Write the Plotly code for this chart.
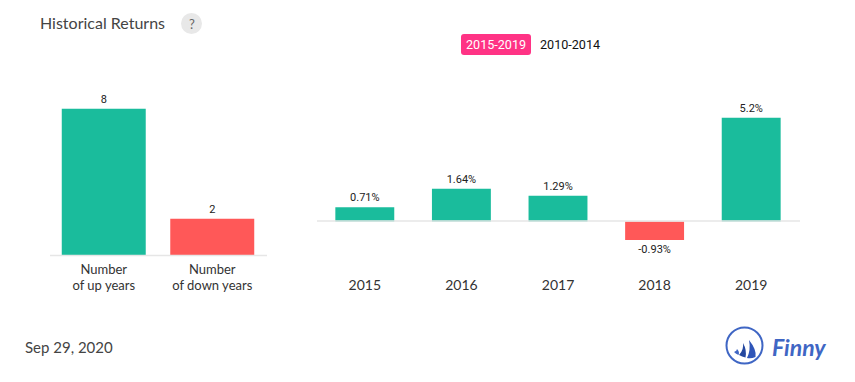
import plotly.graph_objects as go

W, H = 855, 382
count_labels = ["Number<br>of up years", "Number<br>of down years"]
count_values = [8, 2]
years = ["2015", "2016", "2017", "2018", "2019"]
returns = [0.71, 1.64, 1.29, -0.93, 5.2]
return_labels = ["0.71%", "1.64%", "1.29%", "-0.93%", "5.2%"]
title = "Historical Returns"
date_label = "Sep 29, 2020"
tabs = ["2015-2019", "2010-2014"]
GREEN, RED = "#1abc9c", "#ff5858"

px = lambda x: x / W
py = lambda y: 1 - y / H
P = lambda x, y: f"{px(x):.5f},{py(y):.5f}"

fig = go.Figure()
fig.add_bar(x=count_labels, y=count_values, xaxis="x", yaxis="y",
            marker=dict(color=[GREEN, RED], line_width=0), text=[str(v) for v in count_values],
            textposition="outside", cliponaxis=False, width=0.774,
            textfont=dict(family="Roboto", size=11, color="#222"), hoverinfo="skip")
fig.add_bar(x=years, y=returns, xaxis="x2", yaxis="y2",
            marker=dict(color=[GREEN if r >= 0 else RED for r in returns], line_width=0),
            text=return_labels, textposition="outside", cliponaxis=False, width=0.61,
            textfont=dict(family="Roboto", size=11, color="#222"), hoverinfo="skip")

tab_path = (f"M {P(464,34)} L {P(528,34)} Q {P(531,34)} {P(531,37)} L {P(531,52)} Q {P(531,55)} {P(528,55)} "
            f"L {P(464,55)} Q {P(461,55)} {P(461,52)} L {P(461,37)} Q {P(461,34)} {P(464,34)} Z")
sails = [
    (f"M {P(749,340)} Q {P(757,350)} {P(755.5,357)} Q {P(751,359)} {P(747,358)} Q {P(751,350)} {P(749,340)} Z", "#2f55b8"),
    (f"M {P(743,343)} Q {P(747,350)} {P(745.5,357.5)} Q {P(742,357)} {P(739,355)} Q {P(744,350)} {P(743,343)} Z", "#24479f"),
    (f"M {P(737,349)} Q {P(740,352)} {P(738.5,355)} Q {P(736,354)} {P(734,352)} Q {P(737,351)} {P(737,349)} Z", "#3f66c4"),
]
shapes = [
    dict(type="circle", xref="paper", yref="paper", x0=px(181), x1=px(202), y0=py(34), y1=py(13),
         fillcolor="#e8e8e8", line_width=0),
    dict(type="path", xref="paper", yref="paper", path=tab_path, fillcolor="#ff3385", line_width=0),
    dict(type="line", xref="paper", yref="paper", x0=px(50), x1=px(267), y0=py(255.5), y1=py(255.5),
         line=dict(color="#e6e6e6", width=1.5)),
    dict(type="line", xref="paper", yref="paper", x0=px(317), x1=px(800), y0=py(221), y1=py(221),
         line=dict(color="#e6e6e6", width=1.5)),
    dict(type="circle", xref="paper", yref="paper", x0=px(726.5), x1=px(762.5), y0=py(363.5), y1=py(327.5),
         line=dict(color="#3f66c4", width=2), fillcolor="white"),
]
for d, col in sails:
    shapes.append(dict(type="path", xref="paper", yref="paper", path=d, fillcolor=col, line_width=0))

def note(text, x, y, size, color, family="Lato", anchor="left"):
    return dict(text=text, xref="paper", yref="paper", x=px(x), y=py(y), xanchor=anchor, yanchor="middle",
                showarrow=False, font=dict(family=family, size=size, color=color))

annotations = [
    note(title, 38, 22, 16, "#444"),
    note("?", 191.5, 24, 13, "#666", anchor="center"),
    note(tabs[0], 496, 45, 12.6, "#ffffff", family="Roboto", anchor="center"),
    note(tabs[1], 570, 45, 12.6, "#111", family="Roboto", anchor="center"),
    note(date_label, 23, 346.5, 15, "#444"),
    note("<b><i>Finny</i></b>", 770, 347, 23, "#3f66c4", family="Lato"),
]

fig.update_layout(
    width=W, height=H, margin=dict(l=0, r=0, t=0, b=0), autosize=False,
    paper_bgcolor="white", plot_bgcolor="white", showlegend=False, shapes=shapes, annotations=annotations,
    xaxis=dict(domain=[px(49.5), px(266.5)], anchor="y", tickfont=dict(family="Lato", size=13, color="#333"),
               showgrid=False, showline=False, ticks="", range=[-0.5, 1.5], ticklabelstandoff=4),
    yaxis=dict(domain=[py(255.5), py(108.5)], anchor="x", range=[0, 8], visible=False),
    xaxis2=dict(domain=[px(316.5), px(799.5)], anchor="y2", tickfont=dict(family="Lato", size=14, color="#333"),
                showgrid=False, showline=False, ticks="", range=[-0.5, 4.5], ticklabelstandoff=4),
    yaxis2=dict(domain=[py(270.5), py(117.5)], anchor="x2", range=[-2.45, 5.2], visible=False),
)
fig.write_html("out.html", config=dict(displayModeBar=False),
               post_script="document.body.style.margin='0';document.documentElement.style.overflow='hidden';")
